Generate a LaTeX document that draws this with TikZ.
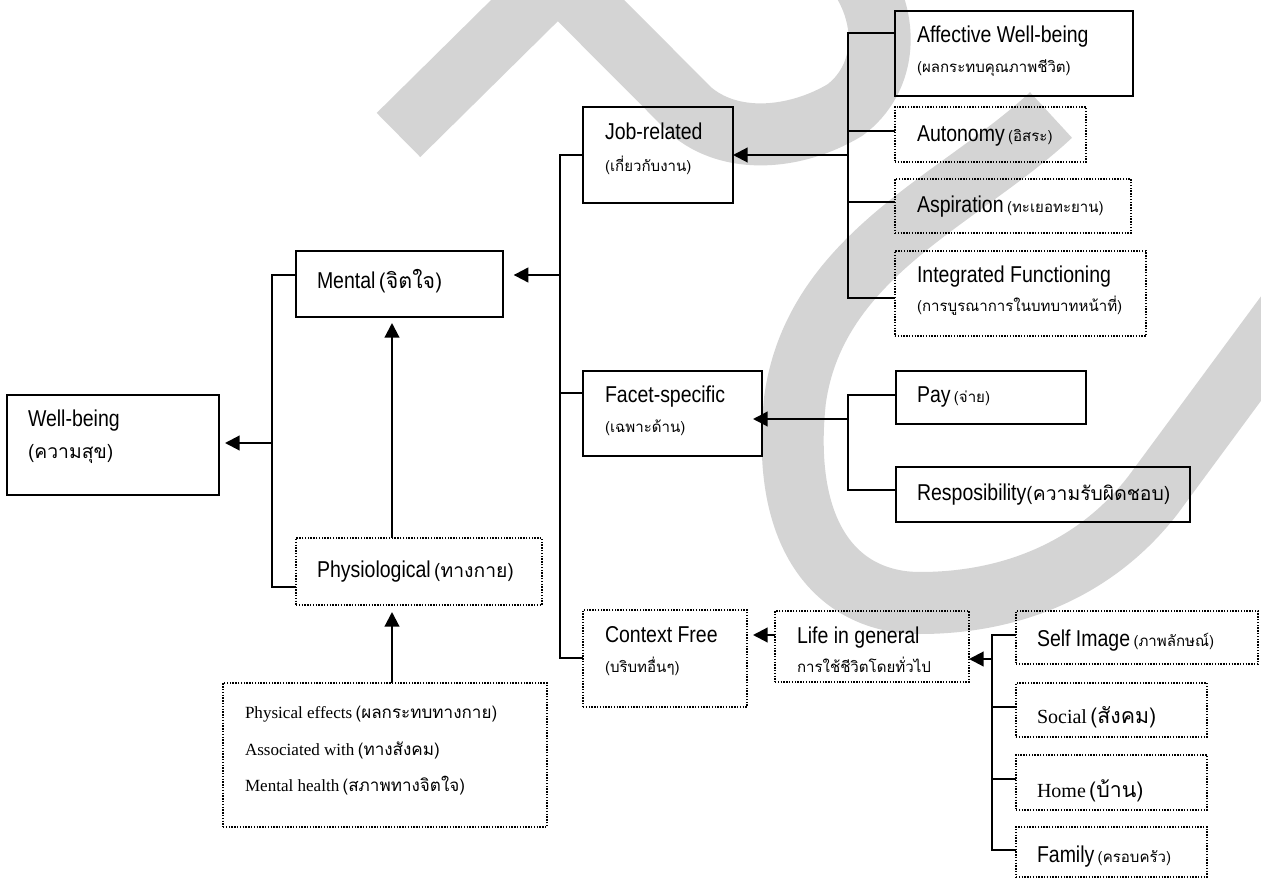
\documentclass[tikz,border=0pt]{standalone}
\usepackage{fontspec}
\setmainfont{Liberation Serif}
\newfontfamily\arialf[FakeStretch=0.85]{Liberation Sans}
\newfontfamily\thaif[Script=Thai]{Loma}
\usetikzlibrary{arrows.meta,fit}

% label fonts
\newcommand\txtEN[1]{{\arialf\fontsize{17.2pt}{20pt}\selectfont #1}}
\newcommand\txtTHs[1]{{\thaif\fontsize{11.3pt}{14pt}\selectfont #1}}
\newcommand\txtTHm[1]{{\thaif\fontsize{12.8pt}{15pt}\selectfont #1}}
\newcommand\txtTHl[1]{{\thaif\fontsize{14.5pt}{17pt}\selectfont #1}}
\newcommand\txtTHx[1]{{\thaif\fontsize{16pt}{19pt}\selectfont #1}}
\newcommand\txtRM[1]{{\rmfamily\fontsize{12.8pt}{15pt}\selectfont #1}}
\newcommand\txtRMb[1]{{\rmfamily\fontsize{15pt}{18pt}\selectfont #1}}

\definecolor{wmgray}{RGB}{212,212,212}

\tikzset{
  conn/.style={line width=1.6pt},
  arr/.style={line width=1.6pt, -{Triangle[length=11pt,width=11pt]}},
  solidbox/.style={draw, line width=1.6pt, inner sep=0pt, outer sep=0pt},
  dotbox/.style={draw, line width=1.4pt, dash pattern=on 1pt off 1.1pt, inner sep=0pt, outer sep=0pt},
  txt/.style={anchor=base west, inner sep=0pt, outer sep=0pt},
  wm/.style={draw=wmgray, line width=46.5pt, line cap=butt, line join=miter},
}

\begin{document}
\begin{tikzpicture}[x=0.75pt,y=-0.75pt]
\useasboundingbox (0,0) rectangle (1261,880);
\fill[white] (0,0) rectangle (1261,880);

% background watermark strokes
\begin{scope}
  \clip (0,0) rectangle (1261,880);
  \draw[wm] (398.5,135) -- (558,-22.5) -- (690,110)
     .. controls (730,145) and (795,140) .. (845,110)
     .. controls (885,80) and (890,25) .. (862,-20);
  \draw[wm] (1051,115) .. controls (960,200) and (815,255) .. (795,400)
     .. controls (780,540) and (840,603) .. (920,603)
     .. controls (1010,603) and (1095,570) .. (1153,495) -- (1330,255);
\end{scope}

% boxes
\node[solidbox, fit={(7,395)(219,495)}]     (well)    {};
\node[solidbox, fit={(296,251)(503,317)}]   (mental)  {};
\node[dotbox,   fit={(296,538)(542,605)}]   (physio)  {};
\node[dotbox,   fit={(223,683)(547,827)}]   (effects) {};
\node[solidbox, fit={(583,107)(733,203)}]   (job)     {};
\node[solidbox, fit={(583,371)(762,456)}]   (facet)   {};
\node[dotbox,   fit={(583,610)(747,707)}]   (ctx)     {};
\node[solidbox, fit={(895,11)(1133,96)}]    (affect)  {};
\node[dotbox,   fit={(895,107)(1086,162)}]  (auton)   {};
\node[dotbox,   fit={(895,179)(1131,233)}]  (aspir)   {};
\node[dotbox,   fit={(895,251)(1146,336)}]  (integ)   {};
\node[solidbox, fit={(896,371)(1086,424)}]  (pay)     {};
\node[solidbox, fit={(896,467)(1190,522)}]  (resp)    {};
\node[dotbox,   fit={(775,611)(969,682)}]   (life)    {};
\node[dotbox,   fit={(1016,611)(1258,664)}] (self)    {};
\node[dotbox,   fit={(1016,683)(1207,737)}] (social)  {};
\node[dotbox,   fit={(1016,755)(1207,810)}] (home)    {};
\node[dotbox,   fit={(1016,827)(1207,877)}] (family)  {};

% box texts
\node[txt] (t-well1) at (28,427) {\txtEN{Well-being}};
\node[txt] (t-well2) at (28,459) {\txtTHl{(ความสุข)}};
\node[txt] (t-mental) at (317,289) {\txtEN{Mental} \txtTHx{(จิตใจ)}};
\node[txt] (t-physio) at (317,577) {\txtEN{Physiological} \txtTHl{(ทางกาย)}};
\node[txt] (t-eff1) at (245,718) {\txtRM{Physical effects} \txtTHm{(ผลกระทบทางกาย)}};
\node[txt] (t-eff2) at (245,755) {\txtRM{Associated with} \txtTHm{(ทางสังคม)}};
\node[txt] (t-eff3) at (245,791) {\txtRM{Mental health} \txtTHm{(สภาพทางจิตใจ)}};
\node[txt] (t-job1) at (605,140) {\txtEN{Job-related}};
\node[txt] (t-job2) at (605,172) {\txtTHs{(เกี่ยวกับงาน)}};
\node[txt] (t-facet1) at (605,403) {\txtEN{Facet-specific}};
\node[txt] (t-facet2) at (605,433) {\txtTHs{(เฉพาะด้าน)}};
\node[txt] (t-ctx1) at (605,642) {\txtEN{Context Free}};
\node[txt] (t-ctx2) at (605,672) {\txtTHs{(บริบทอื่นๆ)}};
\node[txt] (t-aff1) at (917,43) {\txtEN{Affective Well-being}};
\node[txt] (t-aff2) at (917,73) {\txtTHs{(ผลกระทบคุณภาพชีวิต)}};
\node[txt] (t-auton) at (917,142) {\txtEN{Autonomy} \txtTHs{(อิสระ)}};
\node[txt] (t-aspir) at (917,213) {\txtEN{Aspiration} \txtTHs{(ทะเยอทะยาน)}};
\node[txt] (t-integ1) at (917,283) {\txtEN{Integrated Functioning}};
\node[txt] (t-integ2) at (917,312) {\txtTHs{(การบูรณาการในบทบาทหน้าที่)}};
\node[txt] (t-pay) at (917,403) {\txtEN{Pay} \txtTHs{(จ่าย)}};
\node[txt] (t-resp) at (917,501) {\txtEN{Resposibility}\txtTHl{(ความรับผิดชอบ)}};
\node[txt] (t-life1) at (797,643) {\txtEN{Life in general}};
\node[txt] (t-life2) at (797,672) {\txtTHs{การใช้ชีวิตโดยทั่วไป}};
\node[txt] (t-self) at (1037,646) {\txtEN{Self Image} \txtTHs{(ภาพลักษณ์)}};
\node[txt] (t-social) at (1037,723) {\txtRMb{Social} \txtTHx{(สังคม)}};
\node[txt] (t-home) at (1037,797) {\txtRMb{Home} \txtTHx{(บ้าน)}};
\node[txt] (t-family) at (1037,862) {\txtEN{Family} \txtTHs{(ครอบครัว)}};

% junction points of the trees
\coordinate (a1) at (272,275);
\coordinate (a2) at (272,587);
\coordinate (a3) at (272,443);
\coordinate (ax) at (392,0);
\coordinate (b1) at (560,155);
\coordinate (b2) at (560,658);
\coordinate (bm) at (560,275);
\coordinate (bf) at (560,393);
\coordinate (c1) at (848,33);
\coordinate (c2) at (848,298);
\coordinate (ca) at (848,131);
\coordinate (cs) at (848,202);
\coordinate (cj) at (848,155);
\coordinate (d1) at (848,395);
\coordinate (d2) at (848,490);
\coordinate (dj) at (848,419);
\coordinate (lc) at (0,635);
\coordinate (f1) at (992,635);
\coordinate (f2) at (992,850);
\coordinate (fs) at (992,707);
\coordinate (fh) at (992,779);
\coordinate (fj) at (992,659);

% well-being level
\draw[conn] (mental.west |- a1) -- (a1) -- (a2) -- (physio.west |- a2);
\draw[arr] (a3) -- ([xshift=4.5pt]well.east |- a3);
\draw[arr] (physio.north -| ax) -- ([yshift=-4.5pt]mental.south -| ax);
\draw[arr] (effects.north -| ax) -- ([yshift=-5.25pt]physio.south -| ax);

% mental level
\draw[conn] (job.west |- b1) -- (b1) -- (b2) -- (ctx.west |- b2);
\draw[conn] (bf) -- (facet.west |- bf);
\draw[arr] (bm) -- ([xshift=8pt]mental.east |- bm);

% job-related level
\draw[conn] (affect.west |- c1) -- (c1) -- (c2) -- (integ.west |- c2);
\draw[conn] (ca) -- (auton.west |- ca);
\draw[conn] (cs) -- (aspir.west |- cs);
\draw[arr] (cj) -- (job.east |- cj);

% facet-specific level
\draw[conn] (pay.west |- d1) -- (d1) -- (d2) -- (resp.west |- d2);
\draw[arr] (dj) -- ([xshift=-6.75pt]facet.east |- dj);

% context-free level
\draw[arr] (life.west |- lc) -- ([xshift=4.5pt]ctx.east |- lc);
\draw[conn] (self.west |- f1) -- (f1) -- (f2) -- (family.west |- f2);
\draw[conn] (fs) -- (social.west |- fs);
\draw[conn] (fh) -- (home.west |- fh);
\draw[arr] (fj) -- (life.east |- fj);
\end{tikzpicture}
\end{document}
